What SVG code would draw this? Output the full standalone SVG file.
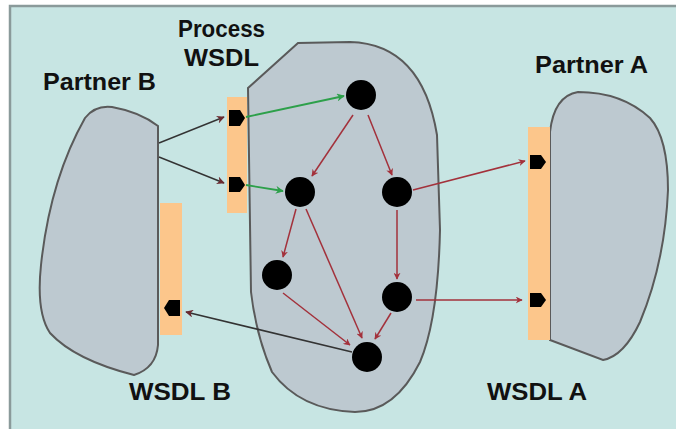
<svg xmlns="http://www.w3.org/2000/svg" width="676" height="429" viewBox="0 0 676 429">
<style>
.shape{fill:#BDC9D0;stroke:#5a5a5a;stroke-width:2}
.wsdl{fill:#FCC68B}
.port{fill:#000}
.node{fill:#000}
.lbl{font-family:"Liberation Sans",Arial,sans-serif;font-weight:bold;font-size:23px;fill:#111}
.red{stroke:#A3313B;stroke-width:1.5;fill:none;marker-end:url(#ar)}
.grn{stroke:#2DA04A;stroke-width:1.8;fill:none;marker-end:url(#ag)}
.drk{stroke:#333;stroke-width:1.5;fill:none;marker-end:url(#ad)}
</style>
<defs>
<marker id="ar" viewBox="0 0 10 10" refX="9" refY="5" markerWidth="7" markerHeight="7" markerUnits="userSpaceOnUse" orient="auto"><path d="M0,0 L10,5 L0,10 L3,5 Z" fill="#A3313B"/></marker>
<marker id="ag" viewBox="0 0 10 10" refX="9" refY="5" markerWidth="8" markerHeight="8" markerUnits="userSpaceOnUse" orient="auto"><path d="M0,0 L10,5 L0,10 L3,5 Z" fill="#2DA04A"/></marker>
<marker id="ad" viewBox="0 0 10 10" refX="9" refY="5" markerWidth="8" markerHeight="8" markerUnits="userSpaceOnUse" orient="auto"><path d="M0,0 L10,5 L0,10 L3,5 Z" fill="#6b2a30"/></marker>
</defs>
<rect x="9" y="5" width="667" height="424" fill="#C7E5E3"/>
<path d="M10,429 L10,6 L676,6" fill="none" stroke="#8A9A9A" stroke-width="2.5"/>

<g id="partnerB">
<path class="shape" d="M158,126 L158,345 Q156,368 134,375 Q75,360 50,333 Q36,312 41,265 Q50,180 85,118 Q95,105 112,107 Q140,112 158,126 Z"/>
<rect class="wsdl" x="160" y="203" width="22" height="132"/>
<path class="port" d="M180,300 L169,300 L164,308 L169,316 L180,316 Z"/>
<text class="lbl" x="43" y="90" textLength="113" lengthAdjust="spacingAndGlyphs">Partner B</text>
<text class="lbl" x="129" y="400" textLength="102" lengthAdjust="spacingAndGlyphs">WSDL B</text>
</g>

<g id="process">
<path class="shape" d="M248,88 L298,43 L350,42 Q422,44 437,135 L440,230 Q438,320 420,362 Q395,412 355,412 Q300,410 272,372 Q256,335 251,292 Z"/>
<rect class="wsdl" x="227" y="97" width="20" height="116"/>
<path class="port" d="M229,110 L240,110 L245,118 L240,126 L229,126 Z"/>
<path class="port" d="M229,177 L240,177 L245,185 L240,192 L229,192 Z"/>
<text class="lbl" x="178" y="37" textLength="87" lengthAdjust="spacingAndGlyphs">Process</text>
<text class="lbl" x="184" y="66" textLength="75" lengthAdjust="spacingAndGlyphs">WSDL</text>
</g>

<g id="partnerA">
<path class="shape" d="M550,340 L550,132 Q554,96 578,92 Q622,92 650,118 Q668,138 668,190 Q665,262 640,322 Q624,356 603,360 Z"/>
<rect class="wsdl" x="528" y="127" width="22" height="213"/>
<path class="port" d="M530,155 L541,155 L546,162 L541,169 L530,169 Z"/>
<path class="port" d="M530,293 L541,293 L546,300 L541,307 L530,307 Z"/>
<text class="lbl" x="535" y="73" textLength="113" lengthAdjust="spacingAndGlyphs">Partner A</text>
<text class="lbl" x="487" y="400" textLength="100" lengthAdjust="spacingAndGlyphs">WSDL A</text>
</g>

<g id="nodes">
<circle id="n1" class="node" cx="361" cy="95" r="15"/>
<circle id="n2" class="node" cx="300" cy="192" r="15"/>
<circle id="n3" class="node" cx="397" cy="192" r="15"/>
<circle id="n4" class="node" cx="277" cy="275" r="15"/>
<circle id="n5" class="node" cx="397" cy="297" r="15"/>
<circle id="n6" class="node" cx="367" cy="357" r="15"/>
</g>

<g id="connectors">
<line class="drk" x1="159" y1="143" x2="224" y2="117"/>
<line class="drk" x1="159" y1="157" x2="224" y2="183"/>
<line class="drk" x1="352" y1="352" x2="186" y2="312"/>
<line class="grn" x1="246" y1="117" x2="344" y2="96"/>
<line class="grn" x1="246" y1="185" x2="283" y2="191"/>
<line class="red" x1="353" y1="115" x2="312" y2="176"/>
<line class="red" x1="368" y1="115" x2="392" y2="175"/>
<line class="red" x1="413" y1="190" x2="525" y2="161"/>
<line class="red" x1="397" y1="210" x2="397" y2="279"/>
<line class="red" x1="391" y1="313" x2="375" y2="339"/>
<line class="red" x1="416" y1="300" x2="522" y2="300"/>
<line class="red" x1="296" y1="209" x2="283" y2="257"/>
<line class="red" x1="306" y1="209" x2="362" y2="338"/>
<line class="red" x1="283" y1="293" x2="350" y2="345"/>
</g>
</svg>
